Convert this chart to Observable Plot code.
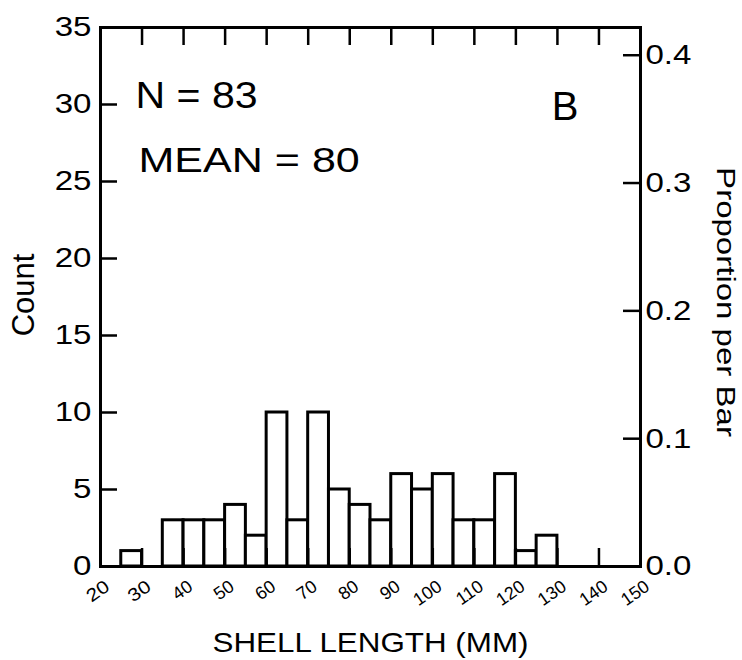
<!DOCTYPE html>
<html>
<head>
<meta charset="utf-8">
<script src="https://cdn.jsdelivr.net/npm/d3@7"></script>
<script src="https://cdn.jsdelivr.net/npm/@observablehq/plot@0.6"></script>
<style>
  html, body { margin: 0; padding: 0; background: #fff; }
  #chart svg { display: block; }
</style>
</head>
<body>
<div id="chart"></div>
<script>
// Histogram bins (lower edge, mm) and counts
const binStart = [25, 30, 35, 40, 45, 50, 55, 60, 65, 70, 75, 80, 85, 90, 95, 100, 105, 110, 115, 120, 125];
const counts   = [ 1,  0,  3,  3,  3,  4,  2, 10,  3, 10,  5,  4,  3,  6,  5,   6,   3,   3,   6,   1,   2];
const binWidth = 5;
const N = 83;
const MEAN = 80;
const xTicks = [20, 30, 40, 50, 60, 70, 80, 90, 100, 110, 120, 130, 140, 150];
const yTicks = [0, 5, 10, 15, 20, 25, 30, 35];
const propTicks = [0.0, 0.1, 0.2, 0.3, 0.4];

const bins = binStart.map((b, i) => ({x1: b, x2: b + binWidth, count: counts[i]})).filter(d => d.count > 0);

const font = "'Liberation Sans', Arial, Helvetica, sans-serif";
const W = 742, H = 660, mL = 100, mR = 102, mT = 27, mB = 94;
const innerW = W - mL - mR, innerH = H - mT - mB;
const tickLen = 18;

const chart = Plot.plot({
  width: W,
  height: H,
  marginLeft: mL,
  marginRight: mR,
  marginTop: mT,
  marginBottom: mB,
  style: {fontFamily: font, color: "black", background: "white", overflow: "visible"},
  x: {domain: [20, 150]},
  y: {domain: [0, 35]},
  marks: [
    Plot.rectY(bins, {x1: "x1", x2: "x2", y: "count", fill: "white", stroke: "black", strokeWidth: 3}),
    // inward ticks
    Plot.tickX(xTicks, {x: d => d, insetBottom: innerH - tickLen, stroke: "black", strokeWidth: 2.5}),
    Plot.tickX(xTicks, {x: d => d, insetTop: innerH - tickLen, stroke: "black", strokeWidth: 2.5}),
    Plot.tickY(yTicks, {y: d => d, insetRight: innerW - 17, stroke: "black", strokeWidth: 2.5}),
    Plot.tickY(propTicks.map(p => p * N), {y: d => d, insetLeft: innerW - 17, stroke: "black", strokeWidth: 2.5}),
    Plot.frame({stroke: "black", strokeWidth: 3}),
    // tick labels
    Plot.axisY({anchor: "left", ticks: yTicks, tickSize: 0, tickPadding: 9, fontSize: 28, label: null}),
    Plot.axisY({anchor: "right", ticks: propTicks.map(p => p * N), tickFormat: d => (d / N).toFixed(1), tickSize: 0, tickPadding: 5, fontSize: 28, label: null}),
    Plot.axisX({anchor: "bottom", ticks: xTicks, tickSize: 0, tickPadding: 18, tickRotate: -35, dx: 7, fontSize: 18, label: null}),
    // axis titles
    Plot.text(["Count"], {frameAnchor: "left", dx: -76, dy: -2, rotate: -90, textAnchor: "middle", lineAnchor: "middle", fontSize: 31, fill: "black"}),
    Plot.text(["Proportion per Bar"], {frameAnchor: "right", dx: 85, dy: 5, rotate: 90, textAnchor: "middle", lineAnchor: "middle", fontSize: 26, fill: "black"}),
    Plot.text(["SHELL LENGTH (MM)"], {frameAnchor: "bottom", dy: 77, textAnchor: "middle", lineAnchor: "middle", fontSize: 28, fill: "black"}),
    // annotations
    Plot.text([`N = ${N}`], {frameAnchor: "top-left", dx: 35, dy: 69, textAnchor: "start", lineAnchor: "middle", fontSize: 36, fill: "black"}),
    Plot.text([`MEAN = ${MEAN}`], {frameAnchor: "top-left", dx: 38, dy: 133, textAnchor: "start", lineAnchor: "middle", fontSize: 35, fill: "black"}),
    Plot.text(["B"], {frameAnchor: "top-right", dx: -62, dy: 80, textAnchor: "end", lineAnchor: "middle", fontSize: 40, fill: "black"})
  ]
});
document.getElementById("chart").appendChild(chart);

// The reference lettering is horizontally wide: stretch the glyphs to match.
function widen(filterFn, factor) {
  d3.select(chart).selectAll("text").filter(function () { return filterFn(this.textContent); })
    .each(function () {
      const len = this.getComputedTextLength();
      this.setAttribute("textLength", (len * factor).toFixed(1));
      this.setAttribute("lengthAdjust", "spacingAndGlyphs");
    });
}
const yLabelSet = new Set(yTicks.map(String).concat(propTicks.map(p => p.toFixed(1))));
widen(t => yLabelSet.has(t), 1.18);
widen(t => t === `N = ${N}`, 1.14);
widen(t => t === `MEAN = ${MEAN}`, 1.23);
widen(t => t === "SHELL LENGTH (MM)", 1.12);
widen(t => t === "Proportion per Bar", 1.27);
</script>
</body>
</html>
